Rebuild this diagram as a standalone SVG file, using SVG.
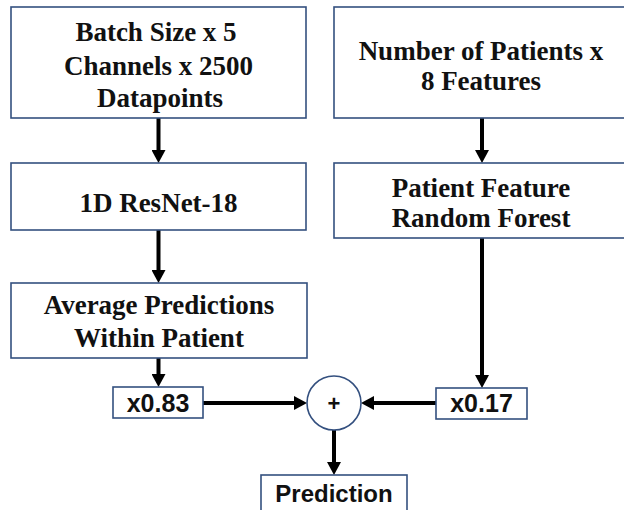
<svg xmlns="http://www.w3.org/2000/svg" width="624" height="510" viewBox="0 0 624 510">
<style>
.box{fill:#fff;stroke:#34507f;stroke-width:1.6}
.t{font-family:"Liberation Serif","Times New Roman",serif;font-weight:bold;font-size:27px;fill:#111;text-anchor:middle}
.s{font-family:"Liberation Sans",Arial,sans-serif;font-weight:bold;font-size:25px;fill:#111;text-anchor:middle}
.c{stroke:#000;stroke-width:4;fill:none}
</style>
<defs>
<marker id="ah" markerUnits="userSpaceOnUse" markerWidth="14" markerHeight="14" refX="0" refY="7" orient="auto">
<path d="M0,0 L13,7 L0,14 z" fill="#000"/>
</marker>
</defs>
<rect width="624" height="510" fill="#fff"/>
<g id="connectors">
<line class="c" x1="158.5" y1="118" x2="158.5" y2="150" marker-end="url(#ah)"/>
<line class="c" x1="158.5" y1="230" x2="158.5" y2="270" marker-end="url(#ah)"/>
<line class="c" x1="158.5" y1="358" x2="158.5" y2="374" marker-end="url(#ah)"/>
<line class="c" x1="482" y1="118" x2="482" y2="150" marker-end="url(#ah)"/>
<line class="c" x1="482" y1="238" x2="482" y2="375" marker-end="url(#ah)"/>
<line class="c" x1="203" y1="403" x2="294" y2="403" marker-end="url(#ah)"/>
<line class="c" x1="436" y1="403" x2="374" y2="403" marker-end="url(#ah)"/>
<line class="c" x1="334" y1="430" x2="334" y2="462" marker-end="url(#ah)"/>
</g>
<g id="input-signal">
<rect class="box" x="11" y="7" width="295" height="111"/>
<text class="t" x="156" y="41">Batch Size x 5</text>
<text class="t" x="158.5" y="75">Channels x 2500</text>
<text class="t" x="160" y="107">Datapoints</text>
</g>
<g id="resnet">
<rect class="box" x="11" y="163" width="295" height="67"/>
<text class="t" x="158.5" y="212">1D ResNet-18</text>
</g>
<g id="average">
<rect class="box" x="11" y="283" width="296" height="75"/>
<text class="t" x="159" y="314">Average Predictions</text>
<text class="t" x="159" y="347">Within Patient</text>
</g>
<g id="w083">
<rect class="box" x="113" y="387" width="90" height="31"/>
<text class="s" x="158" y="412">x0.83</text>
</g>
<g id="input-features">
<rect class="box" x="334" y="7" width="296" height="111"/>
<text class="t" x="481" y="60">Number of Patients x</text>
<text class="t" x="481" y="90">8 Features</text>
</g>
<g id="random-forest">
<rect class="box" x="334" y="163" width="296" height="75"/>
<text class="t" x="481" y="197">Patient Feature</text>
<text class="t" x="481" y="227">Random Forest</text>
</g>
<g id="w017">
<rect class="box" x="436" y="388" width="91" height="31"/>
<text class="s" x="481.5" y="412">x0.17</text>
</g>
<g id="sum">
<circle class="box" cx="334" cy="403" r="27"/>
<text class="s" x="334" y="411" style="font-size:22px">+</text>
</g>
<g id="prediction">
<rect class="box" x="261" y="475" width="146" height="45"/>
<text class="s" x="334" y="502" style="font-size:24px">Prediction</text>
</g>
</svg>
